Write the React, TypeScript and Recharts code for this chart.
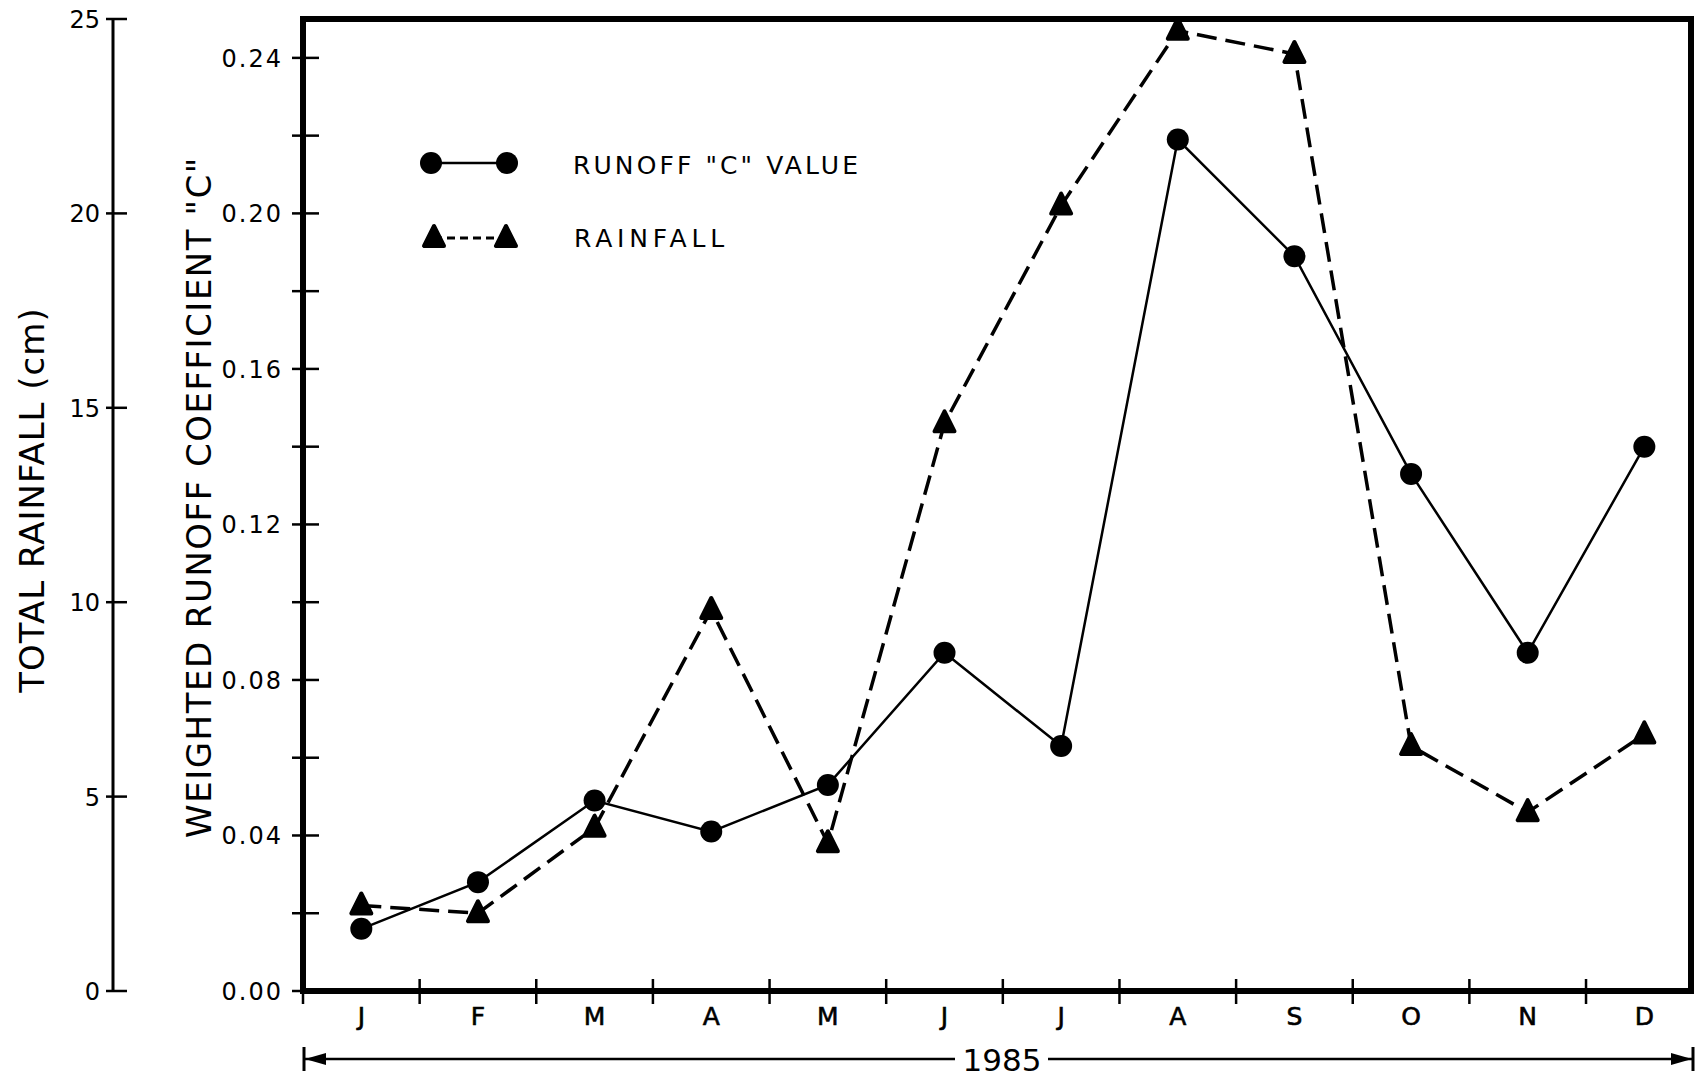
import React from 'react';
import { LineChart, Line, XAxis, YAxis, ReferenceArea } from 'recharts';

// months of 1985
const months = ['J', 'F', 'M', 'A', 'M', 'J', 'J', 'A', 'S', 'O', 'N', 'D'];
// weighted runoff coefficient "C"
const runoffC = [0.016, 0.028, 0.049, 0.041, 0.053, 0.087, 0.063, 0.219, 0.189, 0.133, 0.087, 0.14];
// total rainfall (cm)
const rainfallCm = [2.2, 2.0, 4.2, 9.8, 3.8, 14.6, 20.2, 24.7, 24.1, 6.3, 4.6, 6.6];

const runoffTicks = [0, 0.02, 0.04, 0.06, 0.08, 0.1, 0.12, 0.14, 0.16, 0.18, 0.2, 0.22, 0.24];
const rainTicks = [0, 5, 10, 15, 20, 25];
const monthTicks = [0, 0.5, 1, 1.5, 2, 2.5, 3, 3.5, 4, 4.5, 5, 5.5, 6, 6.5, 7, 7.5, 8, 8.5, 9, 9.5, 10, 10.5, 11, 11.5];

const FONT = '"DejaVu Sans", sans-serif';

const data = months.map((m, i) => ({
  pos: i + 0.5,
  month: m,
  runoff: runoffC[i],
  rain: rainfallCm[i],
}));

const MonthTick = (props: any) => {
  const { x, y, payload } = props;
  const v = payload.value;
  if (Number.isInteger(v)) {
    return <line x1={x} x2={x} y1={y - 12} y2={y + 13} stroke="#000" strokeWidth={2.5} />;
  }
  return (
    <text x={x} y={y + 34} textAnchor="middle" fontFamily={FONT} fontSize={25} stroke="#000" strokeWidth={0.6} fill="#000">
      {months[Math.floor(v)]}
    </text>
  );
};

const RunoffTick = (props: any) => {
  const { x, y, payload } = props;
  const v = payload.value;
  const labelled = Math.round(v * 100) % 4 === 0;
  return (
    <g>
      <line x1={x - 11} x2={x + 16} y1={y} y2={y} stroke="#000" strokeWidth={2.5} />
      {labelled && (
        <text x={x - 20} y={y + 9} textAnchor="end" fontFamily={FONT} fontSize={24} letterSpacing={2} fill="#000">
          {v.toFixed(2)}
        </text>
      )}
    </g>
  );
};

const RainTick = (props: any) => {
  const { x, y, payload } = props;
  return (
    <g>
      <line x1={x - 7} x2={x + 14} y1={y} y2={y} stroke="#000" strokeWidth={2.5} />
      <text x={x - 13} y={y + 9} textAnchor="end" fontFamily={FONT} fontSize={24} fill="#000">
        {payload.value}
      </text>
    </g>
  );
};

const CircleDot = (props: any) => {
  const { cx, cy, index } = props;
  if (cx == null || cy == null) return null;
  return <circle key={`c-${index}`} cx={cx} cy={cy} r={11} fill="#000" />;
};

const TriangleDot = (props: any) => {
  const { cx, cy, index } = props;
  if (cx == null || cy == null) return null;
  return (
    <polygon
      key={`t-${index}`}
      points={`${cx},${cy - 12} ${cx - 10},${cy + 8} ${cx + 10},${cy + 8}`}
      fill="#000"
      stroke="#000"
      strokeWidth={4}
      strokeLinejoin="round"
    />
  );
};

export default function App() {
  return (
    <div style={{ position: 'absolute', left: 0, top: 0, width: 1696, height: 1080, background: '#fff' }}>
      <LineChart width={1696} height={1080} data={data} margin={{ top: 19, right: 5, bottom: 0, left: 0 }}>
        <XAxis
          dataKey="pos"
          type="number"
          domain={[0, 11.9]}
          ticks={monthTicks}
          interval={0}
          tickSize={0}
          tickMargin={0}
          axisLine={false}
          tickLine={false}
          tick={MonthTick}
          height={89}
        />
        <YAxis
          yAxisId="c"
          orientation="left"
          domain={[0, 0.25]}
          ticks={runoffTicks}
          interval={0}
          width={190}
          tickSize={0}
          tickMargin={0}
          axisLine={false}
          tickLine={false}
          tick={RunoffTick}
        />
        <YAxis
          yAxisId="rain"
          orientation="left"
          domain={[0, 25]}
          ticks={rainTicks}
          interval={0}
          width={113}
          tickSize={0}
          tickMargin={0}
          axisLine={{ stroke: '#000', strokeWidth: 3 }}
          tickLine={false}
          tick={RainTick}
        />
        <ReferenceArea
          yAxisId="c"
          x1={0}
          x2={11.9}
          y1={0}
          y2={0.25}
          fill="none"
          fillOpacity={0}
          stroke="#000"
          strokeWidth={6}
        />
        <Line
          yAxisId="rain"
          dataKey="rain"
          type="linear"
          stroke="#000"
          strokeWidth={3.5}
          strokeDasharray="20 9"
          dot={TriangleDot}
          isAnimationActive={false}
        />
        <Line
          yAxisId="c"
          dataKey="runoff"
          type="linear"
          stroke="#000"
          strokeWidth={2.5}
          dot={CircleDot}
          isAnimationActive={false}
        />
      </LineChart>
      <svg width={1696} height={1080} style={{ position: 'absolute', left: 0, top: 0, pointerEvents: 'none' }}>
        {/* axis titles */}
        <text
          transform="translate(44,500) rotate(-90)"
          textAnchor="middle"
          fontFamily={FONT}
          fontSize={34}
          letterSpacing={1}
          fill="#000"
        >
          TOTAL RAINFALL (cm)
        </text>
        <text
          transform="translate(211,497) rotate(-90)"
          textAnchor="middle"
          fontFamily={FONT}
          fontSize={34}
          letterSpacing={1.5}
          fill="#000"
        >
          WEIGHTED RUNOFF COEFFICIENT "C"
        </text>
        {/* legend */}
        <line x1={431} x2={507} y1={163} y2={163} stroke="#000" strokeWidth={2.5} />
        <circle cx={431} cy={163} r={11} fill="#000" />
        <circle cx={507} cy={163} r={11} fill="#000" />
        <text x={573} y={174} fontFamily={FONT} fontSize={25} letterSpacing={3.1} fill="#000">
          RUNOFF "C" VALUE
        </text>
        <line x1={434} x2={506} y1={238} y2={238} stroke="#000" strokeWidth={3} strokeDasharray="8 5" />
        <polygon points="434,226 424,246 444,246" fill="#000" stroke="#000" strokeWidth={4} strokeLinejoin="round" />
        <polygon points="506,226 496,246 516,246" fill="#000" stroke="#000" strokeWidth={4} strokeLinejoin="round" />
        <text x={574} y={247} fontFamily={FONT} fontSize={25} letterSpacing={4.8} fill="#000">
          RAINFALL
        </text>
        {/* year span arrow */}
        <line x1={305} x2={955} y1={1059} y2={1059} stroke="#000" strokeWidth={2.5} />
        <line x1={1048} x2={1692} y1={1059} y2={1059} stroke="#000" strokeWidth={2.5} />
        <line x1={304} x2={304} y1={1047} y2={1071} stroke="#000" strokeWidth={3} />
        <polygon points="305,1059 326,1053 326,1065" fill="#000" />
        <line x1={1693} x2={1693} y1={1047} y2={1071} stroke="#000" strokeWidth={3} />
        <polygon points="1692,1059 1671,1053 1671,1065" fill="#000" />
        <text x={1002} y={1071} textAnchor="middle" fontFamily={FONT} fontSize={31} fill="#000">
          1985
        </text>
      </svg>
    </div>
  );
}
